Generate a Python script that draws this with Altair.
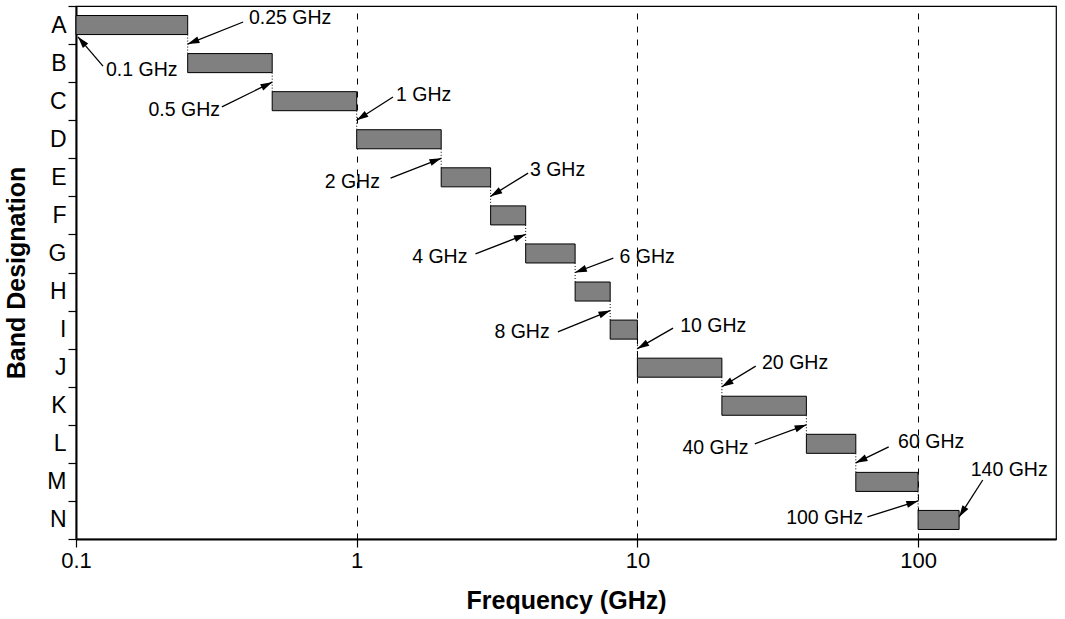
import math
import json
import altair as alt
import pandas as pd

# ---- data ----
bands = ["A", "B", "C", "D", "E", "F", "G", "H", "I", "J", "K", "L", "M", "N"]
f_low = [0.1, 0.25, 0.5, 1, 2, 3, 4, 6, 8, 10, 20, 40, 60, 100]
f_high = [0.25, 0.5, 1, 2, 3, 4, 6, 8, 10, 20, 40, 60, 100, 140]
x_ticks = [0.1, 1, 10, 100]

# annotation labels and their anchor points (frequency, row position)
ann_text = ["0.1 GHz", "0.25 GHz", "0.5 GHz", "1 GHz", "2 GHz", "3 GHz", "4 GHz",
            "6 GHz", "8 GHz", "10 GHz", "20 GHz", "40 GHz", "60 GHz", "100 GHz", "140 GHz"]
ann_tip_f = [0.1016, 0.25, 0.5, 1, 2, 3, 4, 6, 8, 10, 20, 40, 60, 100, 140]
ann_tip_r = [0.81, 1.0, 2.0, 3.0, 4.0, 5.0, 6.0, 7.0, 8.0, 9.0, 10.0, 11.0, 12.0, 13.0, 13.42]
ann_tail_f = [0.1248, 0.394, 0.331, 1.347, 1.32, 4.08, 2.65, 8.21, 5.21, 13.4, 26.4, 26.2, 78.6, 66.0, 170]
ann_tail_r = [1.58, 0.42, 2.65, 2.39, 4.52, 4.39, 6.51, 6.62, 8.56, 8.46, 9.46, 11.5, 11.58, 13.42, 12.45]
ann_label_f = [0.1279, 0.413, 0.326, 1.38, 1.21, 4.14, 2.48, 8.64, 4.87, 14.2, 27.8, 24.9, 84.9, 63.7, 154]
ann_label_r = [1.68, 0.315, 2.73, 2.34, 4.62, 4.31, 6.59, 6.59, 8.56, 8.41, 9.38, 11.61, 11.45, 13.45, 12.19]
ann_align = ["left", "left", "right", "left", "right", "left", "right", "left",
             "right", "left", "left", "right", "left", "right", "left"]

# ---- layout ----
W, H = 980, 533
XMIN, XMAX = 0.1, 310
NROWS = len(bands)
FONT = "Liberation Sans"

bars = pd.DataFrame({
    "band": bands,
    "lo": f_low,
    "hi": f_high,
    "y0": [i + 0.25 for i in range(NROWS)],
    "y1": [i + 0.75 for i in range(NROWS)],
})

conn = pd.DataFrame({
    "x": f_high[:-1],
    "y0": [i + 0.75 for i in range(NROWS - 1)],
    "y1": [i + 1.25 for i in range(NROWS - 1)],
})


def px(f):
    return W * math.log10(f / XMIN) / math.log10(XMAX / XMIN)


def py(r):
    return H * r / NROWS


angles = []
for tf, tr, sf, sr in zip(ann_tip_f, ann_tip_r, ann_tail_f, ann_tail_r):
    dx = px(tf) - px(sf)
    dy = py(tr) - py(sr)
    angles.append(math.degrees(math.atan2(dx, -dy)) % 360)

ann = pd.DataFrame({
    "text": ann_text,
    "tip_f": ann_tip_f, "tip_r": ann_tip_r,
    "tail_f": ann_tail_f, "tail_r": ann_tail_r,
    "lab_f": ann_label_f, "lab_r": ann_label_r,
    "align": ann_align, "angle": angles,
})

x_scale = alt.Scale(type="log", domain=[XMIN, XMAX], nice=False)
y_scale = alt.Scale(domain=[0, NROWS], reverse=True, nice=False, zero=False)

x_axis = alt.Axis(values=x_ticks, format="~g", title="Frequency (GHz)",
                  grid=True, gridDash=[6, 7], gridColor="black", gridWidth=1,
                  tickSize=8, labelPadding=3, titlePadding=17, labelFlush=False,
                  labelFontSize=22)
label_expr = json.dumps(bands) + "[datum.value] || ''"
y_axis = alt.Axis(values=list(range(NROWS + 1)), labelExpr=label_expr,
                  labelOffset=H / NROWS / 2, tickSize=8, labelPadding=2,
                  grid=False, title="Band Designation", titlePadding=17,
                  labelFontSize=23)

base_bars = alt.Chart(bars).mark_bar(color="#808080", stroke="black", strokeWidth=1).encode(
    x=alt.X("lo:Q", scale=x_scale, axis=x_axis),
    x2="hi:Q",
    y=alt.Y("y0:Q", scale=y_scale, axis=y_axis),
    y2="y1:Q",
)

connectors = alt.Chart(conn).mark_rule(color="black", strokeWidth=1, strokeDash=[1, 2]).encode(
    x=alt.X("x:Q", scale=x_scale, axis=x_axis),
    y=alt.Y("y0:Q", scale=y_scale, axis=y_axis),
    y2="y1:Q",
)

arrow_lines = alt.Chart(ann).mark_rule(color="black", strokeWidth=1.3).encode(
    x=alt.X("tail_f:Q", scale=x_scale, axis=x_axis),
    x2="tip_f:Q",
    y=alt.Y("tail_r:Q", scale=y_scale, axis=y_axis),
    y2="tip_r:Q",
)

arrow_heads = alt.Chart(ann).mark_point(
    shape="M0,0L0.3,1L-0.3,1Z", filled=True, color="black", opacity=1, size=550, strokeWidth=0
).encode(
    x=alt.X("tip_f:Q", scale=x_scale, axis=x_axis),
    y=alt.Y("tip_r:Q", scale=y_scale, axis=y_axis),
    angle=alt.Angle("angle:Q", scale=None),
)

labels_left = alt.Chart(ann).transform_filter(alt.datum.align == "left").mark_text(
    align="left", baseline="middle", font=FONT, fontSize=19.5, color="black"
).encode(
    x=alt.X("lab_f:Q", scale=x_scale, axis=x_axis),
    y=alt.Y("lab_r:Q", scale=y_scale, axis=y_axis),
    text="text:N",
)

labels_right = alt.Chart(ann).transform_filter(alt.datum.align == "right").mark_text(
    align="right", baseline="middle", font=FONT, fontSize=19.5, color="black"
).encode(
    x=alt.X("lab_f:Q", scale=x_scale, axis=x_axis),
    y=alt.Y("lab_r:Q", scale=y_scale, axis=y_axis),
    text="text:N",
)

chart = alt.layer(
    connectors, base_bars, arrow_lines, arrow_heads, labels_left, labels_right
).properties(
    width=W, height=H,
    autosize=alt.AutoSizeParams(type="none"),
    padding={"left": 76, "top": 6, "right": 9, "bottom": 80},
    background="white",
).configure_view(
    stroke="black", strokeWidth=1.2
).configure_axis(
    domainColor="black", domainWidth=2, tickColor="black", tickWidth=1.2,
    labelColor="black", titleColor="black",
    labelFont=FONT, titleFont=FONT, titleFontSize=25,
    titleFontWeight="bold",
)

chart.save("out.html", embed_options={"renderer": "svg", "actions": False})
